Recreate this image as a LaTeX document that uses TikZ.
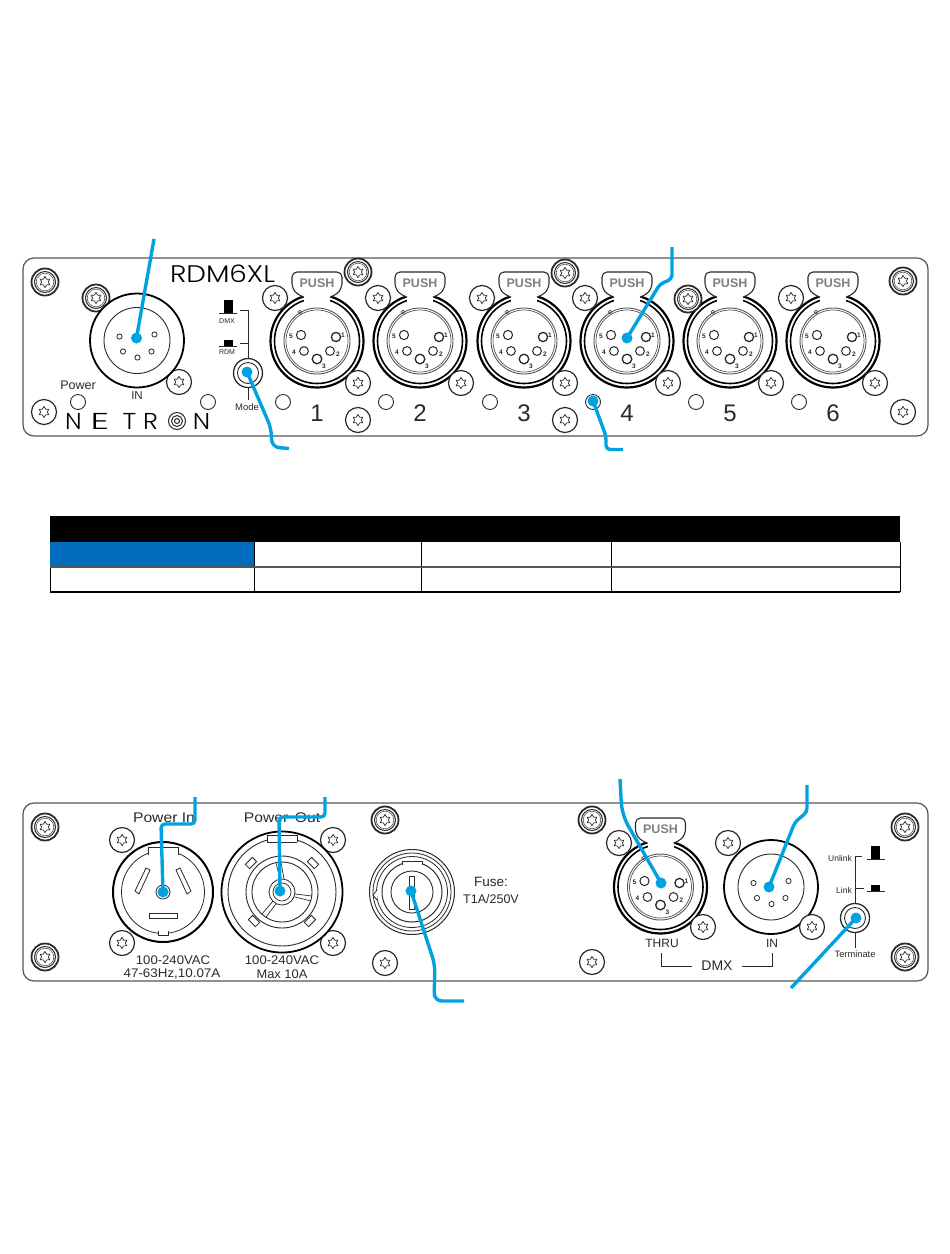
\documentclass[tikz,border=0pt]{standalone}
\usepackage{fontspec}
\setmainfont{Liberation Sans}
\newfontfamily\logofont{Poppins Light}
\definecolor{leader}{HTML}{00A3E0}
\definecolor{cellblue}{HTML}{006DBE}
\definecolor{ink}{HTML}{2A2A2A}
\definecolor{soft}{HTML}{555555}
\tikzset{
  panel/.style={draw=soft,line width=1.2,fill=white,rounded corners=11},
  lbl/.style={inner sep=0,text=ink,font=\fontsize{#1}{#1}\selectfont},
  lbl/.default=12,
  brand/.style={inner sep=0,text=black,font=\logofont\fontsize{#1}{#1}\selectfont},
  leaderline/.style={draw=leader,line width=3.4,rounded corners=4},
  bdot/.style={circle,fill=leader,minimum size=11,inner sep=0},
  led/.style={draw=ink,line width=0.9,fill=white},
  starshape/.pic={\draw[ink,line width=0.7,line join=round] (90:5.6)--(120:3.3)--(150:5.6)--(180:3.3)--(210:5.6)--(240:3.3)--(270:5.6)--(300:3.3)--(330:5.6)--(0:3.3)--(30:5.6)--(60:3.3)--cycle;},
  starscrew/.pic={\draw[ink,line width=1.2,fill=white] (0,0) circle (12.5); \pic at (0,0) {starshape};},
  ringscrew/.pic={\draw[ink,line width=1.8,fill=white] (0,0) circle (13.5); \draw[ink,line width=1] (0,0) circle (10.5); \draw[soft,line width=.6] (0,0) circle (8.8); \pic at (0,0) {starshape};},
  pinlabel/.style={inner sep=0,text=ink,font=\bfseries\fontsize{6.5}{6.5}\selectfont},
  femalexlr/.pic={
    \draw[black,line width=2.2,fill=white] (0,0) circle (46.5);
    \draw[black,line width=1.6] (0,0) circle (42.5);
    \draw[soft,line width=.9] (0,0) circle (33);
    \draw[soft,line width=.7] (0,0) circle (31);
    \fill[white] (-13,-50) rectangle (13,-39);
    \draw[soft,line width=.7] (-17,-29) circle (1.8);
    \draw[ink,line width=1.1,fill=white,rounded corners=5] (-13,-44) -- (-19,-46) -- (-25,-53) -- (-25,-69) -- (25,-69) -- (25,-53) -- (19,-46) -- (13,-44);
    \node[inner sep=0,text=gray,font=\bfseries\fontsize{12.5}{12.5}\selectfont] (-push) at (0,-58) {PUSH};
    \draw[ink,line width=1] (-16,-6) circle (4.6) (-13,10) circle (4.4) (13,10) circle (4.4);
    \draw[ink,line width=1.3] (19,-4) circle (4.6) (0,18) circle (4.8);
    \node[pinlabel] (-p5) at (-26,-5) {5};
    \node[pinlabel] (-p4) at (-23,11) {4};
    \node[pinlabel] (-p1) at (26,-6) {1};
    \node[pinlabel] (-p2) at (21,13) {2};
    \node[pinlabel] (-p3) at (7,25) {3};
  },
  malexlr/.pic={
    \draw[black,line width=1.8,fill=white] (0,0) circle (47);
    \draw[ink,line width=.9] (0,0) circle (33);
    \draw[ink,line width=.8] (-17.5,-4) circle (2.6) (17.5,-6) circle (2.6) (-14,11) circle (2.6) (14.5,11) circle (2.6) (0.5,17) circle (2.6);
  },
  powerin/.pic={
    \draw[black,line width=2,fill=white] (0,0) circle (50);
    \draw[ink,line width=.8] (0,0) circle (41.5);
    \draw[ink,line width=.8,fill=white] (-15,-37) -- (-15,-45) -- (15,-45) -- (15,-37);
    \draw[ink,line width=.8,fill=white] (-5,39) -- (-5,43) -- (5,43) -- (5,39);
    \draw[ink,line width=.8,fill=white] (-17,-24)--(-13,-22)--(-24,2)--(-28,-1)--cycle;
    \draw[ink,line width=.8,fill=white] (17,-24)--(13,-22)--(24,2)--(28,-1)--cycle;
    \draw[ink,line width=.8] (-14,21) rectangle (14,26);
    \draw[ink,line width=.8] (0,0) circle (7);
  },
  powerout/.pic={
    \draw[black,line width=1.8,fill=white] (0,0) circle (60.5);
    \draw[ink,line width=.9] (0,0) circle (54);
    \draw[ink,line width=.9,fill=white] (-15,-50) -- (-15,-57) -- (15,-57) -- (15,-50) (-15,-50) -- (15,-50);
    \draw[ink,line width=.9] (0,0) circle (36);
    \draw[ink,line width=.9] (0,0) circle (30);
    \draw[ink,line width=.8,fill=white] (0,0) circle (13);
    \draw[ink,line width=.7] (0,0) circle (9);
    \draw[ink,line width=.7] (-2,-13)--(-6,-29) (2,-13)--(-1,-30) (13,2)--(30,4) (13,5)--(29,9) (-9,9)--(-20,22) (-6,12)--(-16,25);
    \foreach \a/\b/\r in {-31/-29/45,31/-29/-45,-28/29/-45,28/29/45}{\draw[ink,line width=.8,fill=white,rotate around={\r:(\a,\b)}] (\a-5,\b-3) rectangle (\a+5,\b+3);}
  },
  fuseholder/.pic={
    \draw[ink,line width=1,fill=white] (0,0) circle (42.5);
    \draw[ink,line width=.8] (0,0) circle (39);
    \draw[ink,line width=.8] (0,0) circle (35.5);
    \draw[ink,line width=1] (0,0) circle (30);
    \draw[ink,line width=.9] (0,0) circle (21);
    \draw[ink,line width=.8,fill=white] (-10,-27) -- (-10,-31) -- (10,-31) -- (10,-27);
    \draw[ink,line width=.8,fill=white] (-35,-2) -- (-39,3) -- (-35,8);
    \draw[ink,line width=.8,fill=white] (-2.5,-16) rectangle (2.5,17);
  },
  buttonup/.pic={\fill[black] (-4.5,-13) rectangle (4.5,0); \draw[ink,line width=.8] (-9,0) -- (9,0);},
  buttondown/.pic={\fill[black] (-4.5,-6) rectangle (4.5,0); \draw[ink,line width=.8] (-9,0) -- (9,0);},
  switchring/.pic={\draw[ink,line width=1.3,fill=white] (0,0) circle (14.5); \draw[ink,line width=.9] (0,0) circle (10.5);}
}
\begin{document}
\begin{tikzpicture}[x=1pt,y=-1pt]
\useasboundingbox (0,0) rectangle (950,1254);
\fill[white] (0,0) rectangle (950,1254);

%% ---------- top panel
\draw[panel] (23,258) rectangle (928,436);
\node[brand=24] (logotop) at (222.5,274) {\scalebox{1.16}[1]{RDM6XL}};

\foreach \p in {(45,282),(96,298),(358,272),(565,273),(903,281)}{\pic at \p {ringscrew};}
\foreach \p in {(179,382),(44,412),(358,420),(565,420),(903,412)}{\pic at \p {starscrew};}

\pic at (137,340.5) {malexlr};
\foreach \c/\n in {317/1,420/2,524/3,627/4,730/5,833/6}{
  \pic (conn\n) at (\c,341) {femalexlr};
  \node[lbl=24] (num\n) at (\c,413) {\n};
}
\foreach \c in {275,378,482,585,791}{\pic at (\c,298) {starscrew};}
\pic at (688,299) {ringscrew};
\foreach \c in {358,461,565,668,771,875}{\pic at (\c,383) {starscrew};}

\foreach \c in {78,208,283,386,490,593,696,799}{\draw[led] (\c,402) circle (7.5);}
\node[lbl=12.5] (powerlbl) at (78,385) {Power};
\node[lbl=11.5] (inlbl) at (137,396) {IN};

% mode switch
\draw[ink,line width=.8] (240,310) -- (248,310) -- (248,360) (240,343) -- (248,343) (248,383) -- (248,400);
\pic at (228,313) {buttonup};
\pic at (228,346) {buttondown};
\node[lbl=7] (dmxsw) at (227,321) {DMX};
\node[lbl=7] (rdmsw) at (227,352) {RDM};
\pic at (248,373) {switchring};
\node[lbl=9.5] (modelbl) at (247,407) {Mode};

% brand
\node[brand=23] (brandN) at (73.5,421) {\scalebox{1.05}[1]{N}};
\node[brand=23] (brandE) at (100,421) {\scalebox{1.6}[1]{E}};
\node[brand=23] (brandT) at (129.5,421) {\scalebox{1.15}[1]{T}};
\node[brand=23] (brandR) at (150.5,421) {\scalebox{1.1}[1]{R}};
\draw[ink,line width=1] (177,421) circle (8.5) (177,421) circle (5.5) (177,421) circle (2.5);
\node[brand=23] (brandN2) at (201.5,421) {\scalebox{1.1}[1]{N}};

%% ---------- table
\fill[black] (50,516) rectangle (900,542);
\fill[cellblue] (50,542) rectangle (254,567);
\draw[black,line width=.8] (254,542) -- (254,592) (421,542) -- (421,592) (611,542) -- (611,592) (900,542) -- (900,592) (50,567) -- (50,592);
\draw[soft,line width=1.1] (50,567) -- (900,567);
\draw[black,line width=1.3] (50,592) -- (900,592);

%% ---------- bottom panel
\draw[panel] (23,803) rectangle (928,981);
\foreach \p in {(45,827),(45,957),(385,820),(592,820),(905,827),(905,957)}{\pic at \p {ringscrew};}
\foreach \p in {(122,840),(122,943),(333,840),(333,943),(385,963),(592,962)}{\pic at \p {starscrew};}

\pic at (163,892) {powerin};
\pic at (282,892) {powerout};
\pic at (412,892) {fuseholder};
\node[lbl=14] (pin) at (164,818) {\scalebox{1.12}[1]{Power In}};
\node[lbl=14] (pout) at (282,818) {\scalebox{1.12}[1]{Power\hspace{2pt} Out}};
\node[lbl=12.5] (a1) at (173,960) {\scalebox{1.05}[1]{100-240VAC}};
\node[lbl=12.5] (a2) at (172,974) {\scalebox{1.07}[1]{47-63Hz,10.07A}};
\node[lbl=12.5] (a3) at (282,960) {\scalebox{1.05}[1]{100-240VAC}};
\node[lbl=12.5] (a4) at (282,974) {\scalebox{1.03}[1]{Max 10A}};
\node[lbl=13.5] (fuse1) at (491,882) {Fuse:};
\node[lbl=12.5] (fuse2) at (491,899) {T1A/250V};

\pic (thru) at (660.5,887) {femalexlr};
\pic at (619,843) {starscrew};
\pic at (703,927) {starscrew};
\pic at (771,887) {malexlr};
\pic at (728,843) {starscrew};
\pic at (812,927) {starscrew};
\node[lbl=12] (thrulbl) at (662,943) {THRU};
\node[lbl=12] (in2lbl) at (772,943) {IN};
\node[lbl=14] (dmxlbl) at (717,966) {DMX};
\draw[ink,line width=.8] (661,953) -- (661,966) -- (692,966) (742,966) -- (772,966) -- (772,953);

\draw[ink,line width=.8] (862,856) -- (855,856) -- (855,905) (855,888) -- (864,888) (855,932) -- (855,948);
\pic at (875.5,859) {buttonup};
\pic at (875.5,891) {buttondown};
\node[lbl=8.5] (unlink) at (840,858) {Unlink};
\node[lbl=8.5] (link) at (844,890) {Link};
\pic at (855,918) {switchring};
\node[lbl=9.3] (term) at (855,954) {Terminate};

%% ---------- leader lines
\node[bdot] (dIn) at (136.5,338) {};
\node[bdot] (dMode) at (247,372) {};
\node[bdot] (dConn) at (627,338) {};
\node[bdot] (dLed) at (593,401) {};
\node[bdot] (dPin) at (163,892) {};
\node[bdot] (dPout) at (280,891) {};
\node[bdot] (dFuse) at (411,891) {};
\node[bdot] (dThru) at (661,883) {};
\node[bdot] (dDin) at (769,887) {};
\node[bdot] (dTerm) at (856,918) {};
\coordinate (eIn) at (154,239);
\coordinate (eMode) at (289,448.5);
\coordinate (eConn) at (672,247);
\coordinate (eLed) at (623,449.5);
\coordinate (ePin) at (195,797);
\coordinate (ePout) at (325,797);
\coordinate (eFuse) at (464,1001);
\coordinate (eThru) at (620,779);
\coordinate (eDin) at (807,785);
\coordinate (eTerm) at (791,988);
\draw[leaderline] (eIn) -- (dIn.center);
\draw[leaderline,rounded corners=7] (eMode) -- (272,447) -- (271,428) -- (dMode.center);
\draw[leaderline] (eConn) -- (672,279) -- (660,284) -- (dConn.center);
\draw[leaderline] (eLed) -- (606,449.5) -- (606,436) -- (dLed.center);
\draw[leaderline] (ePin) -- (195,824) -- (161,824) -- (dPin.center);
\draw[leaderline] (ePout) -- (325,817) -- (279,817) -- (dPout.center);
\draw[leaderline,rounded corners=8] (eFuse) -- (434,1001) -- (435,965) -- (dFuse.center);
\draw[leaderline,rounded corners=12] (eThru) -- (622,815) -- (dThru.center);
\draw[leaderline] (eDin) -- (807,812) -- (795,822) -- (dDin.center);
\draw[leaderline] (eTerm) -- (dTerm.center);
\end{tikzpicture}
\end{document}
